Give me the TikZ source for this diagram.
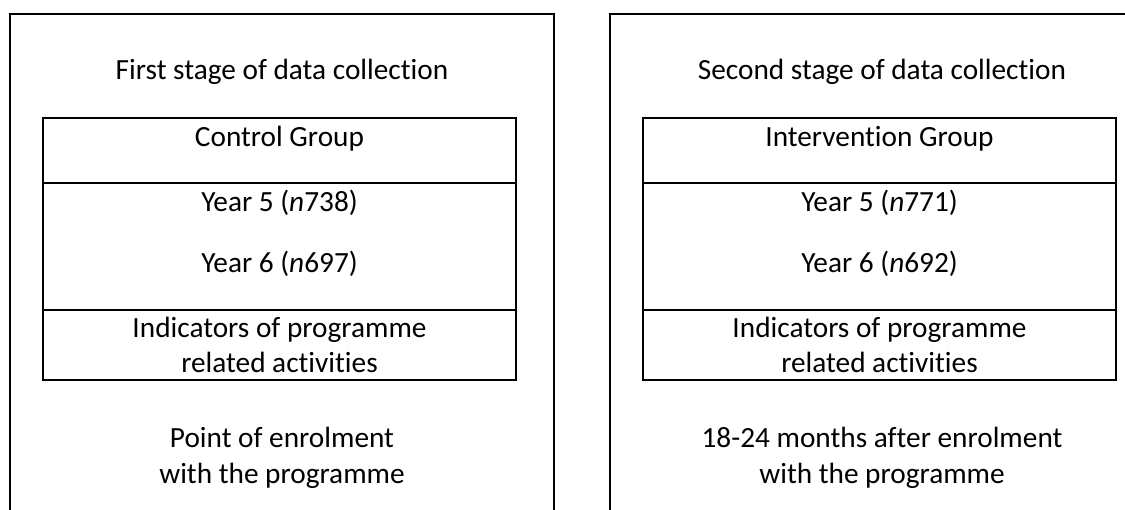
\documentclass[tikz,border=0pt]{standalone}
\usepackage{fontspec}
\setmainfont{Carlito}[Ligatures=NoCommon]
\begin{document}
\begin{tikzpicture}[x=1pt,y=-1pt,
  frame/.style={draw=black,line width=2.8pt},
  lbl/.style={anchor=base,align=center,inner sep=0pt,font=\fontsize{29.3}{35.8}\selectfont}]
\useasboundingbox (0,0) rectangle (1125,510);
\clip (0,0) rectangle (1125,510);
% outer frames
\draw[frame] (10,14) rectangle (554,540);
\draw[frame] (610,14) rectangle (1154,540);
% left inner
\draw[frame] (43,118) rectangle (516,380);
\draw[frame] (43,183) -- (516,183);
\draw[frame] (43,310) -- (516,310);
% right inner
\draw[frame] (643,118) rectangle (1116,380);
\draw[frame] (643,183) -- (1116,183);
\draw[frame] (643,310) -- (1116,310);
% left texts (multi-line nodes: base = last line)
\node[lbl] (l1) at (282,80) {First stage of data collection};
\node[lbl] (l2) at (279.5,147) {Control Group};
\node[lbl] (l3) at (279.5,212) {Year 5 (\textit{n}738)};
\node[lbl] (l4) at (279.5,273) {Year 6 (\textit{n}697)};
\node[lbl] (l5) at (279.5,373) {Indicators of programme\\related activities};
\node[lbl] (l6) at (282,483) {Point of enrolment\\with the programme};
% right texts
\node[lbl] (r1) at (882,80) {Second stage of data collection};
\node[lbl] (r2) at (879.5,147) {Intervention Group};
\node[lbl] (r3) at (879.5,212) {Year 5 (\textit{n}771)};
\node[lbl] (r4) at (879.5,273) {Year 6 (\textit{n}692)};
\node[lbl] (r5) at (879.5,373) {Indicators of programme\\related activities};
\node[lbl] (r6) at (882,483) {18-24 months after enrolment\\with the programme};
\end{tikzpicture}
\end{document}
